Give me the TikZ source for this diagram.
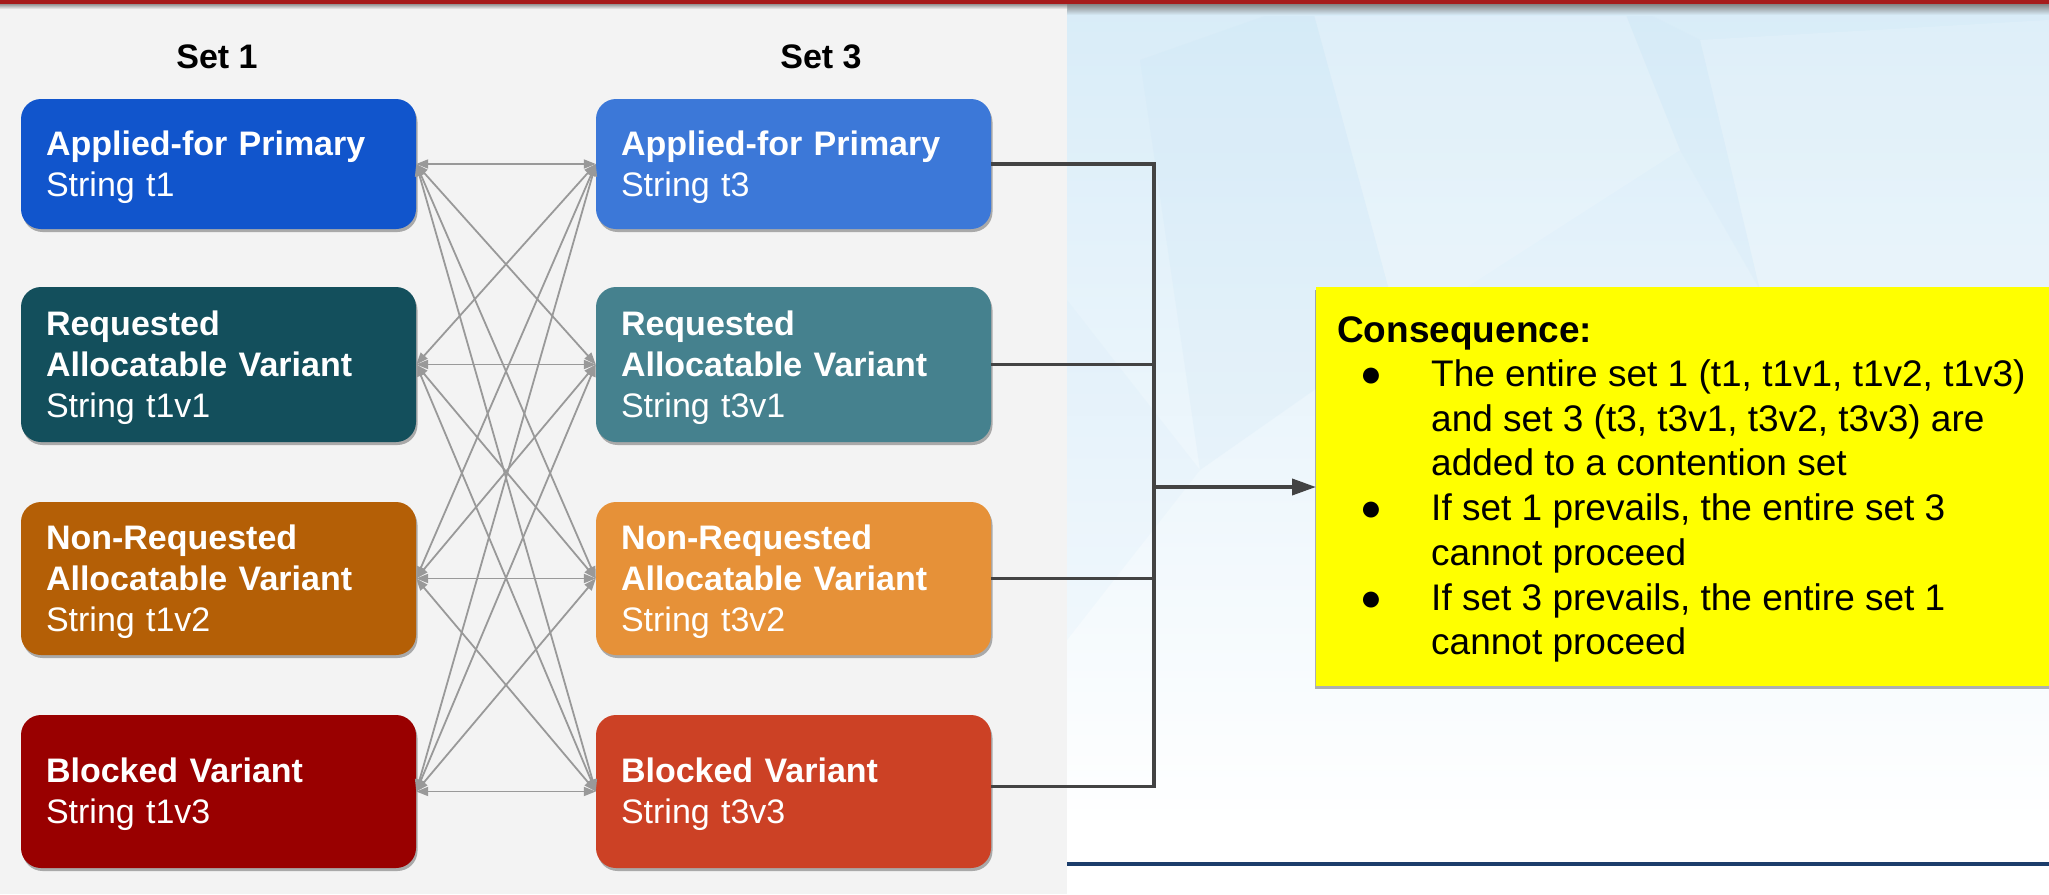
\documentclass[tikz,border=0pt]{standalone}
\usepackage{fontspec}
\setmainfont{Liberation Sans}
\usetikzlibrary{arrows.meta,shadows}
\definecolor{cAa}{HTML}{1155CC}
\definecolor{cAb}{HTML}{3C78D8}
\definecolor{cBa}{HTML}{134F5C}
\definecolor{cBb}{HTML}{45818E}
\definecolor{cCa}{HTML}{B45F06}
\definecolor{cCb}{HTML}{E69138}
\definecolor{cDa}{HTML}{990000}
\definecolor{cDb}{HTML}{CC4125}
\definecolor{panelgray}{HTML}{F3F3F3}
\definecolor{bgblue}{HTML}{D8ECF8}
\definecolor{facet}{HTML}{C8E3F5}
\definecolor{topred}{HTML}{A61C1C}
\definecolor{linkgray}{HTML}{999999}
\definecolor{conngray}{HTML}{434343}
\definecolor{navy}{HTML}{1C3D6B}
\definecolor{consyellow}{HTML}{FFFF00}
\newcommand{\topstrut}{\rule{0pt}{31pt}}
\begin{document}
\begin{tikzpicture}[x=1pt,y=-1pt,
  sbox/.style={rectangle, rounded corners=20pt, minimum width=395pt, text width=345pt,
    inner xsep=25pt, inner ysep=0pt, align=left, text=white,
    font=\fontsize{34}{41}\selectfont,
    drop shadow={shadow xshift=1.5pt, shadow yshift=-3pt, opacity=0.3, fill=black}},
  setlabel/.style={anchor=base, inner sep=0pt, font=\bfseries\fontsize{34}{40}\selectfont},
  link/.style={draw=linkgray, line width=1.8pt, {Triangle[length=12pt,width=9pt]}-{Triangle[length=12pt,width=9pt]}},
  conn/.style={draw=conngray, line width=3.8pt, line join=miter},
  cline/.style={anchor=base west, inner sep=0pt, font=\fontsize{37}{44}\selectfont},
  cbullet/.style={anchor=base, inner sep=0pt, font=\fontsize{37}{44}\selectfont},
]
\clip (0,0) rectangle (2049,894);
% backgrounds
\fill[white] (0,0) rectangle (2049,894);
\shade[top color=bgblue, bottom color=white] (1067,0) rectangle (2049,830);
\fill[facet, opacity=0.18] (1140,60) -- (1310,0) -- (1400,330) -- (1200,470) -- cycle;
\fill[white, opacity=0.15] (1310,0) -- (1620,0) -- (1680,150) -- (1400,330) -- cycle;
\fill[facet, opacity=0.15] (1620,0) -- (1700,40) -- (1760,290) -- (1680,150) -- cycle;
\fill[white, opacity=0.15] (1700,40) -- (2049,20) -- (2049,400) -- (1760,290) -- cycle;
\fill[facet, opacity=0.12] (1067,300) -- (1200,470) -- (1067,640) -- cycle;
\shade[top color=black!50, bottom color=bgblue] (1067,3.5) rectangle (2049,15);
\fill[panelgray] (0,9) rectangle (1067,894);
\shade[top color=black!45, bottom color=panelgray] (0,3.5) rectangle (1067,9);
\fill[topred] (0,0) rectangle (2049,3.5);
\draw[navy, line width=3.5pt] (1067,864) -- (2049,864);

% set labels
\node[setlabel] (s1) at (217,68) {Set 1};
\node[setlabel] (s3) at (821,68) {Set 3};

% set 1 boxes
\node[sbox, fill=cAa, minimum height=130pt] (a1) at (218.5,164) {\topstrut\textbf{Applied-for Primary}\\String t1};
\node[sbox, fill=cBa, minimum height=155pt] (a2) at (218.5,364.5) {\topstrut\textbf{Requested}\\\textbf{Allocatable Variant}\\String t1v1};
\node[sbox, fill=cCa, minimum height=153pt] (a3) at (218.5,578.5) {\topstrut\textbf{Non-Requested}\\\textbf{Allocatable Variant}\\String t1v2};
\node[sbox, fill=cDa, minimum height=153pt] (a4) at (218.5,791.5) {\topstrut\textbf{Blocked Variant}\\String t1v3};

% set 3 boxes
\node[sbox, fill=cAb, minimum height=130pt] (b1) at (793.5,164) {\topstrut\textbf{Applied-for Primary}\\String t3};
\node[sbox, fill=cBb, minimum height=155pt] (b2) at (793.5,364.5) {\topstrut\textbf{Requested}\\\textbf{Allocatable Variant}\\String t3v1};
\node[sbox, fill=cCb, minimum height=153pt] (b3) at (793.5,578.5) {\topstrut\textbf{Non-Requested}\\\textbf{Allocatable Variant}\\String t3v2};
\node[sbox, fill=cDb, minimum height=153pt] (b4) at (793.5,791.5) {\topstrut\textbf{Blocked Variant}\\String t3v3};

% all-to-all links
\foreach \i in {1,...,4}{
  \foreach \j in {1,...,4}{
    \draw[link] ([yshift=\ifnum\i=4 5pt\else 0pt\fi]a\i.east) -- ([yshift=\ifnum\j=4 5pt\else 0pt\fi]b\j.west);
  }
}

% consequence box
\node[fill=consyellow, anchor=north west, minimum width=760pt, minimum height=399pt, inner sep=0pt,
  drop shadow={shadow xshift=-1pt, shadow yshift=-3pt, opacity=0.3, fill=black}] (cons) at (1316,287) {};

% collector connectors
\coordinate (jn) at (1154,487);
\draw[conn] (b1.east) -| (jn) |- ([yshift=5pt]b4.east);
\draw[conn] (b2.east) -- (b2.east -| jn);
\draw[conn] (b3.east) -- (b3.east -| jn);
\draw[conn, -{Triangle[length=24pt,width=16pt]}] (jn) -- (cons.west |- jn);

% consequence text
\node[cline, font=\bfseries\fontsize{37}{44}\selectfont] (h) at (1337,342) {Consequence:};
\node[cbullet] (p1) at (1371,386.5) {●};
\node[cbullet] (p2) at (1371,520.6) {●};
\node[cbullet] (p3) at (1371,610) {●};
\node[cline] (l1) at (1431,386.5) {The entire set 1 (t1, t1v1, t1v2, t1v3)};
\node[cline] (l2) at (1431,431.2) {and set 3 (t3, t3v1, t3v2, t3v3) are};
\node[cline] (l3) at (1431,475.9) {added to a contention set};
\node[cline] (l4) at (1431,520.6) {If set 1 prevails, the entire set 3};
\node[cline] (l5) at (1431,565.3) {cannot proceed};
\node[cline] (l6) at (1431,610) {If set 3 prevails, the entire set 1};
\node[cline] (l7) at (1431,654.7) {cannot proceed};
\end{tikzpicture}
\end{document}
